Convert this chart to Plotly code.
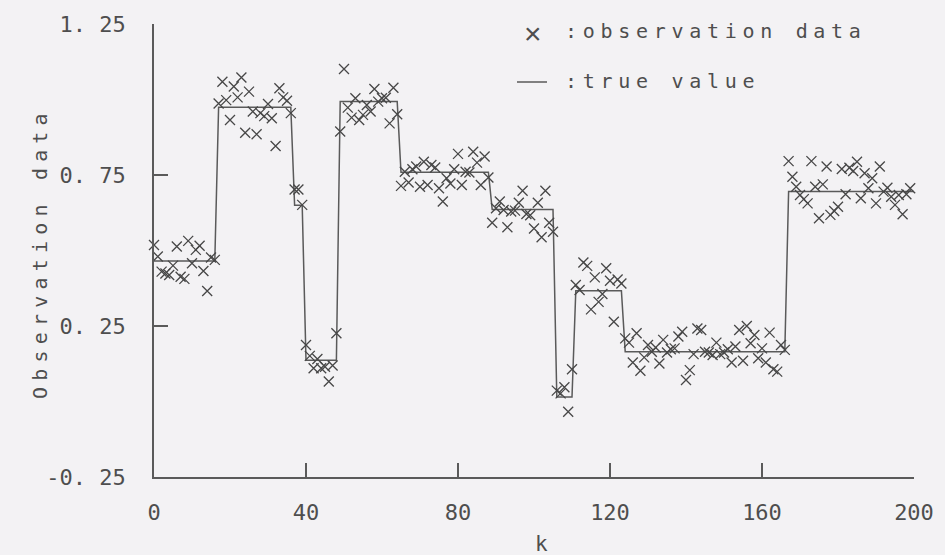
import plotly.graph_objects as go

# Observation data y(k), k = 0 .. 199
obs_values = [
    # k 0-16
    0.518, 0.480, 0.430, 0.424, 0.419, 0.450, 0.513, 0.413, 0.406, 0.532,
    0.458, 0.502, 0.516, 0.432, 0.366, 0.477, 0.469,
    # k 17-36
    0.987, 1.059, 0.998, 0.932, 1.043, 1.007, 1.073, 0.890, 1.026, 0.960,
    0.885, 0.955, 0.945, 0.985, 0.938, 0.846, 1.037, 1.007, 0.996, 0.955,
    # k 37-39
    0.702, 0.702, 0.651,
    # k 40-48
    0.187, 0.151, 0.110, 0.141, 0.110, 0.115, 0.066, 0.119, 0.226,
    # k 49-64
    0.894, 1.101, 0.973, 0.940, 1.004, 0.932, 0.949, 0.982, 0.960, 1.035,
    0.993, 1.004, 1.006, 0.921, 1.039, 0.951,
    # k 65-88
    0.714, 0.761, 0.725, 0.769, 0.778, 0.711, 0.794, 0.717, 0.783, 0.775,
    0.706, 0.662, 0.739, 0.722, 0.769, 0.820, 0.717, 0.761, 0.758, 0.827,
    0.791, 0.717, 0.811, 0.742,
    # k 89-105
    0.592, 0.640, 0.662, 0.634, 0.577, 0.629, 0.632, 0.658, 0.698, 0.621,
    0.617, 0.573, 0.658, 0.544, 0.698, 0.592, 0.562,
    # k 106-110
    0.036, 0.027, 0.047, -0.034, 0.107,
    # k 111-123
    0.386, 0.369, 0.460, 0.449, 0.305, 0.411, 0.330, 0.356, 0.441, 0.400,
    0.264, 0.404, 0.391,
    # k 124-166
    0.209, 0.195, 0.129, 0.226, 0.102, 0.146, 0.187, 0.165, 0.179, 0.126,
    0.204, 0.162, 0.173, 0.176, 0.215, 0.231, 0.071, 0.104, 0.157, 0.242,
    0.237, 0.165, 0.162, 0.154, 0.195, 0.157, 0.162, 0.173, 0.129, 0.182,
    0.237, 0.135, 0.250, 0.193, 0.220, 0.143, 0.176, 0.129, 0.228, 0.107,
    0.099, 0.187, 0.171,
    # k 167-199
    0.796, 0.744, 0.711, 0.684, 0.670, 0.656, 0.796, 0.711, 0.607, 0.719,
    0.778, 0.618, 0.631, 0.645, 0.770, 0.686, 0.774, 0.763, 0.794, 0.673,
    0.756, 0.706, 0.739, 0.656, 0.778, 0.695, 0.708, 0.678, 0.651, 0.684,
    0.620, 0.686, 0.706,
]
obs_k = list(range(len(obs_values)))

# True value: piecewise constant, each level holds from its start k
true_start = [0, 17, 37, 40, 49, 65, 89, 106, 111, 124, 167]
true_level = [0.465, 0.974, 0.650, 0.137, 0.993, 0.759, 0.636, 0.015, 0.367, 0.165, 0.695]
k_end = 200

true_k = list(range(k_end + 1))
true_values = []
for k in true_k:
    level = true_level[0]
    for s, v in zip(true_start, true_level):
        if k >= s:
            level = v
    true_values.append(level)

x_ticks = [0, 40, 80, 120, 160, 200]
y_ticks = [-0.25, 0.25, 0.75, 1.25]
y_tick_text = ["-0. 25", "0. 25", "0. 75", "1. 25"]

ink = "#4e4e4e"
bg = "#f3f2f4"
mono = "DejaVu Sans Mono"

fig = go.Figure()
fig.add_trace(go.Scatter(
    x=true_k, y=true_values, mode="lines",
    line=dict(color="#5a5a5a", width=1.5),
    showlegend=False, hoverinfo="skip",
))
fig.add_trace(go.Scatter(
    x=obs_k, y=obs_values, mode="markers",
    marker=dict(symbol="x-thin", size=10, line=dict(color="#474747", width=1.3)),
    cliponaxis=False, showlegend=False,
))

W, H = 945, 555
L, R, T, B = 154, 31, 24, 78
pw, ph = W - L - R, H - T - B


def px_x(px):
    return (px - L) / pw


def px_y(py):
    return (H - B - py) / ph


def spaced(text, sp):
    return f'<span style="letter-spacing:{sp}px">{text}</span>'


fig.update_layout(
    width=W, height=H,
    margin=dict(l=L, r=R, t=T, b=B, pad=0),
    paper_bgcolor=bg, plot_bgcolor=bg,
    font=dict(family=mono, color=ink),
    xaxis=dict(
        range=[0, 200], tickvals=x_ticks, ticktext=[str(v) for v in x_ticks],
        ticks="inside", ticklen=14, tickwidth=1.5, tickcolor="#5a5a5a",
        showline=True, linecolor="#5a5a5a", linewidth=1.5,
        showgrid=False, zeroline=False,
        tickfont=dict(family=mono, size=22, color=ink),
        ticklabelstandoff=15,
    ),
    yaxis=dict(
        range=[-0.25, 1.25], tickvals=y_ticks, ticktext=y_tick_text,
        ticks="inside", ticklen=14, tickwidth=1.5, tickcolor="#5a5a5a",
        showline=True, linecolor="#5a5a5a", linewidth=1.5,
        showgrid=False, zeroline=False,
        tickfont=dict(family=mono, size=22, color=ink),
        ticklabelstandoff=22,
    ),
    shapes=[
        dict(type="line", xref="paper", yref="paper",
             x0=px_x(517), x1=px_x(547), y0=px_y(82), y1=px_y(82),
             line=dict(color="#5a5a5a", width=1.5)),
    ],
    annotations=[
        dict(text=spaced("Observation data", 6.2), textangle=-90,
             xref="paper", yref="paper", x=px_x(40), y=px_y(253),
             xanchor="center", yanchor="middle", showarrow=False,
             font=dict(family=mono, size=20, color=ink)),
        dict(text="k", xref="paper", yref="paper", x=px_x(541), y=px_y(544),
             xanchor="center", yanchor="middle", showarrow=False,
             font=dict(family=mono, size=21, color=ink)),
        dict(text="×", xref="paper", yref="paper", x=px_x(533), y=px_y(33),
             xanchor="center", yanchor="middle", showarrow=False,
             font=dict(family="Liberation Sans", size=30, color=ink)),
        dict(text=spaced(":observation data", 5.7), xref="paper", yref="paper",
             x=px_x(563), y=px_y(31), xanchor="left", yanchor="middle",
             showarrow=False, font=dict(family=mono, size=20, color=ink)),
        dict(text=spaced(":true value", 5.7), xref="paper", yref="paper",
             x=px_x(563), y=px_y(81), xanchor="left", yanchor="middle",
             showarrow=False, font=dict(family=mono, size=20, color=ink)),
    ],
)

fig.write_html("out.html")
